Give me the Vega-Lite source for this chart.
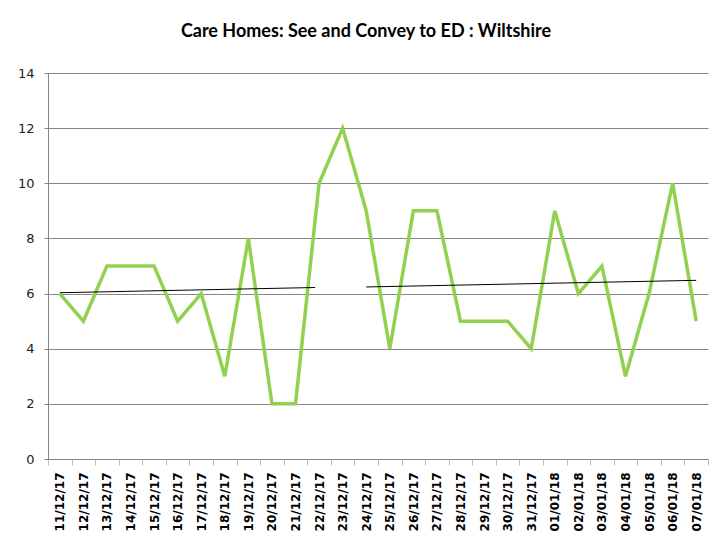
{
  "$schema": "https://vega.github.io/schema/vega-lite/v6.json",
  "autosize": {"type": "none"},
  "width": 660,
  "height": 386,
  "padding": {"left": 48, "top": 73, "right": 10, "bottom": 85},
  "background": "white",
  "config": {"view": {"stroke": null}},
  "title": {
    "text": "Care Homes: See and Convey to ED : Wiltshire",
    "font": "Lato",
    "fontSize": 18,
    "fontWeight": "bold",
    "color": "#000000",
    "offset": 26,
    "dx": -12
  },
  "datasets": {
    "counts": [
      {"date": "2017/12/11", "value": 6},
      {"date": "2017/12/12", "value": 5},
      {"date": "2017/12/13", "value": 7},
      {"date": "2017/12/14", "value": 7},
      {"date": "2017/12/15", "value": 7},
      {"date": "2017/12/16", "value": 5},
      {"date": "2017/12/17", "value": 6},
      {"date": "2017/12/18", "value": 3},
      {"date": "2017/12/19", "value": 8},
      {"date": "2017/12/20", "value": 2},
      {"date": "2017/12/21", "value": 2},
      {"date": "2017/12/22", "value": 10},
      {"date": "2017/12/23", "value": 12},
      {"date": "2017/12/24", "value": 9},
      {"date": "2017/12/25", "value": 4},
      {"date": "2017/12/26", "value": 9},
      {"date": "2017/12/27", "value": 9},
      {"date": "2017/12/28", "value": 5},
      {"date": "2017/12/29", "value": 5},
      {"date": "2017/12/30", "value": 5},
      {"date": "2017/12/31", "value": 4},
      {"date": "2018/01/01", "value": 9},
      {"date": "2018/01/02", "value": 6},
      {"date": "2018/01/03", "value": 7},
      {"date": "2018/01/04", "value": 3},
      {"date": "2018/01/05", "value": 6},
      {"date": "2018/01/06", "value": 10},
      {"date": "2018/01/07", "value": 5}
    ],
    "trend": [
      {"segment": "a", "date": "2017/12/11 00:00", "value": 6.03},
      {"segment": "a", "date": "2017/12/21 20:00", "value": 6.22},
      {"segment": "b", "date": "2017/12/24 00:00", "value": 6.24},
      {"segment": "b", "date": "2018/01/07 00:00", "value": 6.48}
    ]
  },
  "resolve": {"axis": {"x": "independent"}},
  "layer": [
    {
      "data": {"name": "counts"},
      "mark": {"type": "line", "color": "#92D050", "strokeWidth": 3.5, "strokeJoin": "miter"},
      "encoding": {
        "x": {
          "field": "date",
          "type": "temporal",
          "title": null,
          "scale": {
            "domain": [
              {"year": 2017, "month": 12, "date": 10, "hours": 12},
              {"year": 2018, "month": 1, "date": 7, "hours": 12}
            ]
          },
          "axis": {
            "orient": "bottom",
            "tickCount": {"interval": "day", "step": 1},
            "format": "%d/%m/%y",
            "labelAngle": 270,
            "labelAlign": "right",
            "labelBaseline": "middle",
            "labelFont": "DejaVu Sans",
            "labelFontSize": 12,
            "labelFontWeight": "bold",
            "labelColor": "#000000",
            "labelPadding": 13,
            "labelOverlap": false,
            "labelFlush": false,
            "ticks": false,
            "grid": false,
            "domain": true,
            "domainColor": "#868686",
            "domainWidth": 1
          }
        },
        "y": {
          "field": "value",
          "type": "quantitative",
          "title": null,
          "scale": {"domain": [0, 14], "nice": false},
          "axis": {
            "values": [0, 2, 4, 6, 8, 10, 12, 14],
            "labelFont": "DejaVu Sans",
            "labelFontSize": 13,
            "labelColor": "#222222",
            "labelPadding": 10,
            "tickSize": 4,
            "tickColor": "#868686",
            "domainColor": "#868686",
            "gridColor": "#868686",
            "gridWidth": 1,
            "grid": true
          }
        }
      }
    },
    {
      "data": {"name": "trend"},
      "mark": {"type": "line", "color": "#000000", "strokeWidth": 1},
      "encoding": {
        "x": {
          "field": "date",
          "type": "temporal",
          "axis": {
            "orient": "bottom",
            "values": [
              {"year": 2017, "month": 12, "date": 10, "hours": 12},
              {"year": 2017, "month": 12, "date": 11, "hours": 12},
              {"year": 2017, "month": 12, "date": 12, "hours": 12},
              {"year": 2017, "month": 12, "date": 13, "hours": 12},
              {"year": 2017, "month": 12, "date": 14, "hours": 12},
              {"year": 2017, "month": 12, "date": 15, "hours": 12},
              {"year": 2017, "month": 12, "date": 16, "hours": 12},
              {"year": 2017, "month": 12, "date": 17, "hours": 12},
              {"year": 2017, "month": 12, "date": 18, "hours": 12},
              {"year": 2017, "month": 12, "date": 19, "hours": 12},
              {"year": 2017, "month": 12, "date": 20, "hours": 12},
              {"year": 2017, "month": 12, "date": 21, "hours": 12},
              {"year": 2017, "month": 12, "date": 22, "hours": 12},
              {"year": 2017, "month": 12, "date": 23, "hours": 12},
              {"year": 2017, "month": 12, "date": 24, "hours": 12},
              {"year": 2017, "month": 12, "date": 25, "hours": 12},
              {"year": 2017, "month": 12, "date": 26, "hours": 12},
              {"year": 2017, "month": 12, "date": 27, "hours": 12},
              {"year": 2017, "month": 12, "date": 28, "hours": 12},
              {"year": 2017, "month": 12, "date": 29, "hours": 12},
              {"year": 2017, "month": 12, "date": 30, "hours": 12},
              {"year": 2017, "month": 12, "date": 31, "hours": 12},
              {"year": 2018, "month": 1, "date": 1, "hours": 12},
              {"year": 2018, "month": 1, "date": 2, "hours": 12},
              {"year": 2018, "month": 1, "date": 3, "hours": 12},
              {"year": 2018, "month": 1, "date": 4, "hours": 12},
              {"year": 2018, "month": 1, "date": 5, "hours": 12},
              {"year": 2018, "month": 1, "date": 6, "hours": 12},
              {"year": 2018, "month": 1, "date": 7, "hours": 12}
            ],
            "labels": false,
            "ticks": true,
            "tickSize": 6,
            "tickColor": "#bbbbbb",
            "domain": false,
            "grid": false,
            "title": null
          }
        },
        "y": {"field": "value", "type": "quantitative"},
        "detail": {"field": "segment"}
      }
    }
  ]
}
